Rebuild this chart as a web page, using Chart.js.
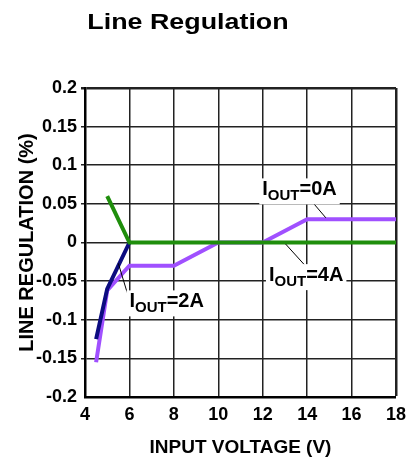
<!DOCTYPE html>
<html lang="en">
<head>
<meta charset="UTF-8">
<title>Line Regulation</title>
<script src="https://cdn.jsdelivr.net/npm/chart.js"></script>
<style>
  html, body { margin: 0; padding: 0; background: #fff; }
  #chart { display: block; }
</style>
</head>
<body>
<canvas id="chart" width="409" height="459"></canvas>
<script>
// values
const xTicks = [4, 6, 8, 10, 12, 14, 16, 18];
const yTicks = [-0.2, -0.15, -0.1, -0.05, 0, 0.05, 0.1, 0.15, 0.2];
const yTickLabels = ['-0.2', '-0.15', '-0.1', '-0.05', '0', '0.05', '0.1', '0.15', '0.2'];

// IOUT = 0A (purple)
const vin0A = [4.5, 5, 6, 8, 10, 12, 14, 18];
const reg0A = [-0.155, -0.062, -0.03, -0.03, 0, 0, 0.03, 0.03];
// IOUT = 2A (navy)
const vin2A = [4.5, 5, 6];
const reg2A = [-0.125, -0.06, 0];
// IOUT = 4A (green)
const vin4A = [5, 6, 18];
const reg4A = [0.06, 0, 0];

const FONT = '"Liberation Sans", Arial, Helvetica, sans-serif';

function points(xs, ys) {
  return xs.map((x, i) => ({ x: x, y: ys[i] }));
}

// callout labels, placed in data coordinates
const callouts = [
  { amps: '2A', x: 6.0, y: -0.084, from: [5.5, -0.027], to: [5.9, -0.065] },
  { amps: '0A', x: 11.98, y: 0.061, from: [13.98, 0.061], to: [14.84, 0.032] },
  { amps: '4A', x: 12.28, y: -0.05, from: [13.03, -0.002], to: [14.04, -0.034] }
];

const overlay = {
  id: 'overlay',
  afterDraw(chart) {
    const ctx = chart.ctx;
    const xs = chart.scales.x;
    const ys = chart.scales.y;

    // title, a bit wider than plain Arial like the datasheet
    ctx.save();
    ctx.fillStyle = '#000';
    ctx.font = 'bold 22px ' + FONT;
    ctx.textAlign = 'center';
    ctx.textBaseline = 'alphabetic';
    ctx.translate(188, 29);
    ctx.scale(1.22, 1);
    ctx.fillText('Line Regulation', 0, 0);
    ctx.restore();

    callouts.forEach(c => {
      ctx.save();
      // leader line
      ctx.strokeStyle = '#000';
      ctx.lineWidth = 1;
      ctx.beginPath();
      ctx.moveTo(xs.getPixelForValue(c.from[0]), ys.getPixelForValue(c.from[1]));
      ctx.lineTo(xs.getPixelForValue(c.to[0]), ys.getPixelForValue(c.to[1]));
      ctx.stroke();

      const px = xs.getPixelForValue(c.x);
      const py = ys.getPixelForValue(c.y);
      const big = 'bold 20px ' + FONT;
      const small = 'bold 15px ' + FONT;
      ctx.font = big;
      const wI = ctx.measureText('I').width;
      const wTail = ctx.measureText('=' + c.amps).width;
      ctx.font = small;
      const wSub = ctx.measureText('OUT').width;
      const w = wI + wSub + wTail;

      ctx.fillStyle = '#fff';
      ctx.fillRect(px - 3, py - 17, w + 6, 26);

      ctx.fillStyle = '#000';
      ctx.textBaseline = 'alphabetic';
      ctx.textAlign = 'left';
      ctx.font = big;
      ctx.fillText('I', px, py);
      ctx.font = small;
      ctx.fillText('OUT', px + wI, py + 5);
      ctx.font = big;
      ctx.fillText('=' + c.amps, px + wI + wSub, py);
      ctx.restore();
    });
  }
};

function edgeWidth(values) {
  return ctx => {
    const v = ctx.tick ? ctx.tick.value : null;
    if (v === values[0]) return 0;
    if (v === values[values.length - 1]) return 2.5;
    return 1.5;
  };
}

new Chart(document.getElementById('chart'), {
  type: 'line',
  data: {
    datasets: [
      {
        label: 'IOUT=4A',
        data: points(vin4A, reg4A),
        borderColor: '#1f8e0c',
        borderWidth: 4,
        pointRadius: 0,
        tension: 0
      },
      {
        label: 'IOUT=2A',
        data: points(vin2A, reg2A),
        borderColor: '#0c0c80',
        borderWidth: 4,
        pointRadius: 0,
        tension: 0
      },
      {
        label: 'IOUT=0A',
        data: points(vin0A, reg0A),
        borderColor: '#a050ff',
        borderWidth: 4,
        pointRadius: 0,
        tension: 0
      }
    ]
  },
  options: {
    responsive: false,
    animation: false,
    layout: { padding: { top: 88, right: 0, left: 0, bottom: 0 } },
    plugins: {
      legend: { display: false },
      tooltip: { enabled: false },
      title: { display: false }
    },
    scales: {
      x: {
        type: 'linear',
        min: 4,
        max: 18,
        afterBuildTicks: s => { s.ticks = xTicks.map(v => ({ value: v })); },
        afterFit: s => {
          s.height = 62;
          s.paddingLeft = 0;
          s.paddingRight = 13;
        },
        grid: {
          color: '#222',
          lineWidth: edgeWidth(xTicks),
          drawTicks: false
        },
        border: { color: '#000', width: 2.5 },
        ticks: {
          color: '#000',
          padding: 7,
          maxRotation: 0,
          font: { family: FONT, size: 18, weight: 'bold' }
        },
        title: {
          display: true,
          text: 'INPUT VOLTAGE (V)',
          color: '#000',
          padding: { top: 0, bottom: 0 },
          font: { family: FONT, size: 19, weight: 'bold' }
        }
      },
      y: {
        type: 'linear',
        min: -0.2,
        max: 0.2,
        afterBuildTicks: s => { s.ticks = yTicks.map(v => ({ value: v })); },
        afterFit: s => { s.width = 85; },
        grid: {
          color: '#222',
          lineWidth: edgeWidth(yTicks),
          drawTicks: true,
          tickLength: 4
        },
        border: { color: '#000', width: 2.5 },
        ticks: {
          color: '#000',
          padding: 4,
          font: { family: FONT, size: 18, weight: 'bold' },
          callback: v => {
            const i = yTicks.findIndex(t => Math.abs(t - v) < 1e-9);
            return i >= 0 ? yTickLabels[i] : '';
          }
        },
        title: {
          display: true,
          text: 'LINE REGULATION (%)',
          color: '#000',
          padding: { top: 15, bottom: 0 },
          font: { family: FONT, size: 20, weight: 'bold' }
        }
      }
    }
  },
  plugins: [overlay]
});
</script>
</body>
</html>
